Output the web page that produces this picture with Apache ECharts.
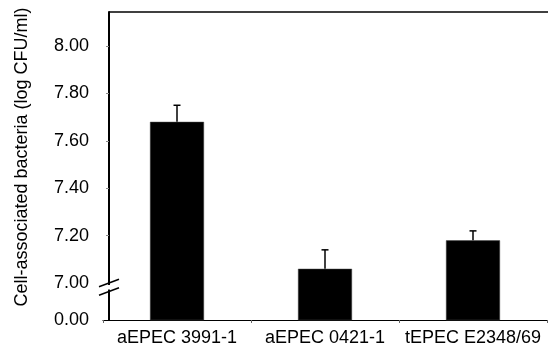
<!DOCTYPE html>
<html>
<head>
<meta charset="utf-8">
<script src="https://cdn.jsdelivr.net/npm/echarts@6/dist/echarts.min.js"></script>
<style>
  html, body { margin: 0; padding: 0; background: #fff; }
  #main { width: 548px; height: 348px; }
</style>
</head>
<body>
<div id="main"></div>
<script>
// data
const categories = ["aEPEC 3991-1", "aEPEC 0421-1", "tEPEC E2348/69"];
const means = [7.68, 7.06, 7.18];
const errors = [0.07, 0.08, 0.04];
const yTickValues = [7.2, 7.4, 7.6, 7.8, 8.0];
const yLabelValues = [6.844, 7.0, 7.2, 7.4, 7.6, 7.8, 8.0];
const yMin = 6.844;   // shown as 0.00 (broken axis)
const yMax = 8.1435;
const breakValue = 7.0;

const gridLeft = 103;
const yOffset = -6; // y axis line sits a bit right of the band start

let myChart = echarts.init(document.getElementById("main"));

const errData = means.map((m, i) => [i, m, m + errors[i]]);

let option = {
  animation: false,
  textStyle: { fontFamily: "Liberation Sans, Arial, sans-serif" },
  grid: { left: gridLeft, right: 1, top: 12, bottom: 28, containLabel: false },
  xAxis: {
    type: "category",
    data: categories,
    axisLine: { show: true, lineStyle: { color: "#000", width: 1.2 } },
    axisTick: { show: true, length: 3, lineStyle: { color: "#666" } },
    axisLabel: { color: "#000", fontSize: 18, margin: 9, interval: 0, hideOverlap: false }
  },
  yAxis: {
    type: "value",
    min: yMin,
    max: yMax,
    offset: yOffset,
    splitLine: { show: false },
    axisLine: { show: true, lineStyle: { color: "#000", width: 2 } },
    axisTick: {
      show: true,
      length: 3,
      customValues: yTickValues,
      lineStyle: { color: "#888" }
    },
    axisLabel: {
      color: "#000",
      fontSize: 18,
      margin: 20,
      padding: [6, 0, 0, 0],
      customValues: yLabelValues,
      formatter: v => (v < 6.9 ? "0.00" : v.toFixed(2))
    },
    name: "Cell-associated bacteria (log CFU/ml)",
    nameLocation: "middle",
    nameGap: 78,
    nameTextStyle: { color: "#000", fontSize: 18, padding: [0, 0, 0, 18] }
  },
  series: [
    {
      type: "bar",
      data: means,
      barWidth: 54,
      itemStyle: { color: "#000", borderColor: "#444", borderWidth: 0.5 }
    },
    {
      type: "custom",
      data: errData,
      z: 5,
      renderItem: function (params, api) {
        const p0 = api.coord([api.value(0), api.value(1)]);
        const p1 = api.coord([api.value(0), api.value(2)]);
        const half = 3.5;
        const st = { stroke: "#000", lineWidth: 1.5 };
        return {
          type: "group",
          children: [
            { type: "line", shape: { x1: p0[0], y1: p0[1], x2: p1[0], y2: p1[1] }, style: st },
            { type: "line", shape: { x1: p1[0] - half, y1: p1[1], x2: p1[0] + half, y2: p1[1] }, style: st }
          ]
        };
      }
    }
  ]
};

myChart.setOption(option);

// top frame line and axis break marks
const axisX = gridLeft - yOffset;
const y7 = myChart.convertToPixel({ yAxisIndex: 0 }, breakValue);
const yTop = myChart.convertToPixel({ yAxisIndex: 0 }, yMax);
const slash = { stroke: "#000", lineWidth: 1.5 };
myChart.setOption({
  graphic: [
    { type: "line", z: 100, shape: { x1: axisX, y1: yTop, x2: 548, y2: yTop }, style: { stroke: "#000", lineWidth: 1.5 } },
    { type: "rect", z: 100, shape: { x: axisX - 3, y: y7 + 2, width: 6, height: 4.5 }, style: { fill: "#fff" } },
    { type: "line", z: 101, shape: { x1: axisX - 10, y1: y7 + 3.7, x2: axisX + 10, y2: y7 - 3.7 }, style: slash },
    { type: "line", z: 101, shape: { x1: axisX - 10, y1: y7 + 12.2, x2: axisX + 10, y2: y7 + 4.8 }, style: slash }
  ]
});
</script>
</body>
</html>
